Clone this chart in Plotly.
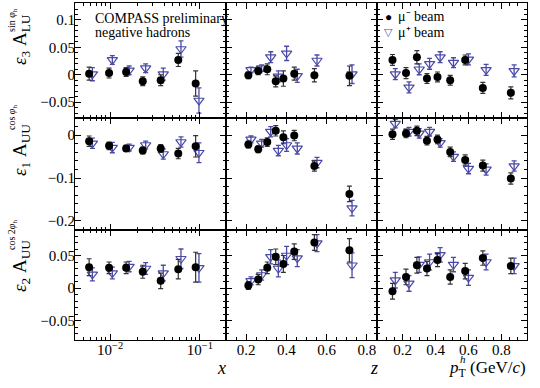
import plotly.graph_objects as go
from plotly.subplots import make_subplots

# ---------------- data ----------------
# kinematic bin positions as drawn
x_mum = [0.00585, 0.00975, 0.0151, 0.0231, 0.0366, 0.0574, 0.0896]
x_mup = [0.00636, 0.0106, 0.0163, 0.0249, 0.0391, 0.0615, 0.0975]
z_mum = [0.211, 0.260, 0.305, 0.347, 0.385, 0.439, 0.539, 0.713]
z_mup = [0.224, 0.277, 0.322, 0.360, 0.401, 0.454, 0.552, 0.726]
pt_mum = [0.139, 0.221, 0.287, 0.348, 0.412, 0.489, 0.580, 0.687, 0.857]
pt_mup = [0.156, 0.239, 0.301, 0.364, 0.428, 0.509, 0.600, 0.707, 0.877]

# sin phi_h  (eps3 A_LU)
sin_x_mum = [0.002, 0.003, 0.005, -0.012, -0.010, 0.027, -0.016]
sin_x_mum_err = [0.012, 0.009, 0.008, 0.008, 0.010, 0.012, 0.023]
sin_x_mup = [0.001, 0.027, 0.008, 0.012, 0.001, 0.047, -0.047]
sin_x_mup_err = [0.012, 0.008, 0.008, 0.008, 0.011, 0.015, 0.023]
sin_z_mum = [-0.001, 0.007, 0.010, -0.012, -0.007, 0.002, -0.001, -0.002]
sin_z_mum_err = [0.006, 0.007, 0.010, 0.010, 0.014, 0.012, 0.012, 0.018]
sin_z_mup = [0.009, 0.012, 0.032, -0.003, 0.039, -0.002, 0.026, 0.001]
sin_z_mup_err = [0.005, 0.006, 0.010, 0.010, 0.013, 0.012, 0.010, 0.017]
sin_pt_mum = [0.027, 0.003, 0.032, -0.007, -0.004, -0.010, 0.027, -0.024, -0.033]
sin_pt_mum_err = [0.010, 0.010, 0.012, 0.009, 0.009, 0.009, 0.009, 0.010, 0.011]
sin_pt_mup = [0.001, -0.023, 0.010, 0.020, 0.032, 0.022, 0.028, 0.009, 0.007]
sin_pt_mup_err = [0.010, 0.010, 0.010, 0.010, 0.010, 0.009, 0.010, 0.010, 0.011]

# cos phi_h  (eps1 A_UU)
cos_x_mum = [-0.014, -0.025, -0.031, -0.036, -0.031, -0.043, -0.026]
cos_x_mum_err = [0.012, 0.009, 0.007, 0.008, 0.009, 0.012, 0.025]
cos_x_mup = [-0.019, -0.029, -0.029, -0.023, -0.044, -0.016, -0.041]
cos_x_mup_err = [0.012, 0.012, 0.008, 0.009, 0.012, 0.012, 0.023]
cos_z_mum = [-0.022, -0.033, -0.016, 0.010, -0.005, -0.001, -0.072, -0.137]
cos_z_mum_err = [0.008, 0.008, 0.010, 0.012, 0.015, 0.012, 0.012, 0.018]
cos_z_mup = [-0.010, -0.019, 0.008, -0.036, -0.023, -0.031, -0.064, -0.170]
cos_z_mup_err = [0.008, 0.009, 0.012, 0.012, 0.015, 0.013, 0.012, 0.018]
cos_pt_mum = [0.002, 0.004, 0.010, -0.013, -0.010, -0.039, -0.058, -0.071, -0.101]
cos_pt_mum_err = [0.012, 0.010, 0.011, 0.010, 0.010, 0.011, 0.012, 0.013, 0.013]
cos_pt_mup = [0.027, 0.008, 0.004, 0.008, -0.018, -0.050, -0.078, -0.080, -0.072]
cos_pt_mup_err = [0.010, 0.010, 0.011, 0.010, 0.010, 0.011, 0.012, 0.013, 0.012]

# cos 2phi_h  (eps2 A_UU)
cos2_x_mum = [0.032, 0.031, 0.031, 0.025, 0.011, 0.029, 0.032]
cos2_x_mum_err = [0.013, 0.009, 0.009, 0.010, 0.012, 0.015, 0.023]
cos2_x_mup = [0.021, 0.023, 0.033, 0.030, 0.023, 0.045, 0.031]
cos2_x_mup_err = [0.010, 0.009, 0.008, 0.009, 0.012, 0.015, 0.022]
cos2_z_mum = [0.004, 0.013, 0.031, 0.048, 0.037, 0.056, 0.070, 0.058]
cos2_z_mum_err = [0.006, 0.008, 0.009, 0.012, 0.013, 0.012, 0.012, 0.018]
cos2_z_mup = [0.011, 0.020, 0.048, 0.030, 0.050, 0.046, 0.069, 0.035]
cos2_z_mup_err = [0.006, 0.008, 0.011, 0.013, 0.014, 0.013, 0.013, 0.019]
cos2_pt_mum = [-0.005, 0.017, 0.035, 0.030, 0.043, 0.017, 0.026, 0.046, 0.034]
cos2_pt_mum_err = [0.012, 0.012, 0.012, 0.011, 0.010, 0.011, 0.012, 0.011, 0.012]
cos2_pt_mup = [0.012, 0.007, 0.036, 0.040, 0.051, 0.036, 0.016, 0.040, 0.034]
cos2_pt_mup_err = [0.012, 0.012, 0.012, 0.012, 0.011, 0.011, 0.012, 0.012, 0.012]

legend_labels = ["μ⁻ beam", "μ⁺ beam"]
x_ticktext = ["10<sup>−2</sup>", "10<sup>−1</sup>"]
x_tickvals = [0.01, 0.1]

# ---------------- figure ----------------
FONT = "Liberation Serif, Times New Roman, Times, serif"
BLUE = "#4a4aa6"

fig = make_subplots(rows=3, cols=3, shared_xaxes=True, shared_yaxes=True,
                    horizontal_spacing=0, vertical_spacing=0)

panels = [
    (1, 1, x_mum, sin_x_mum, sin_x_mum_err, x_mup, sin_x_mup, sin_x_mup_err),
    (1, 2, z_mum, sin_z_mum, sin_z_mum_err, z_mup, sin_z_mup, sin_z_mup_err),
    (1, 3, pt_mum, sin_pt_mum, sin_pt_mum_err, pt_mup, sin_pt_mup, sin_pt_mup_err),
    (2, 1, x_mum, cos_x_mum, cos_x_mum_err, x_mup, cos_x_mup, cos_x_mup_err),
    (2, 2, z_mum, cos_z_mum, cos_z_mum_err, z_mup, cos_z_mup, cos_z_mup_err),
    (2, 3, pt_mum, cos_pt_mum, cos_pt_mum_err, pt_mup, cos_pt_mup, cos_pt_mup_err),
    (3, 1, x_mum, cos2_x_mum, cos2_x_mum_err, x_mup, cos2_x_mup, cos2_x_mup_err),
    (3, 2, z_mum, cos2_z_mum, cos2_z_mum_err, z_mup, cos2_z_mup, cos2_z_mup_err),
    (3, 3, pt_mum, cos2_pt_mum, cos2_pt_mum_err, pt_mup, cos2_pt_mup, cos2_pt_mup_err),
]

MUM_MARKER = dict(symbol="circle", size=8, color="black")
MUP_MARKER = dict(symbol="triangle-down-open", size=9, color=BLUE, line=dict(width=1.2, color=BLUE))

for i, (r, c, xm, ym, em, xp, yp, ep) in enumerate(panels):
    fig.add_hline(y=0, line_dash="dash", line_color="#555555", line_width=1, row=r, col=c)
    fig.add_trace(go.Scatter(
        x=xp, y=yp, mode="markers", name=legend_labels[1], showlegend=False,
        marker=MUP_MARKER,
        error_y=dict(type="data", array=ep, color=BLUE, thickness=1.3, width=2.5),
    ), row=r, col=c)
    fig.add_trace(go.Scatter(
        x=xm, y=ym, mode="markers", name=legend_labels[0], showlegend=False,
        marker=MUM_MARKER,
        error_y=dict(type="data", array=em, color="#333333", thickness=1.2, width=2.5),
    ), row=r, col=c)

col_domains = [[75 / 540, 226 / 540], [226 / 540, 377 / 540], [377 / 540, 527 / 540]]
row_domains = [[1 - 118 / 388, 1 - 3 / 388], [1 - 229.5 / 388, 1 - 118 / 388], [1 - 340 / 388, 1 - 229.5 / 388]]

axis_common = dict(showgrid=False, zeroline=False, showline=True, linecolor="black", linewidth=1,
                   mirror="ticks", ticks="inside", ticklen=6, tickwidth=1, tickcolor="black",
                   tickfont=dict(family=FONT, size=15, color="black"))

for c in range(1, 4):
    fig.update_xaxes(domain=col_domains[c - 1], col=c, ticklabelstandoff=-4, **axis_common)
for r in range(1, 4):
    fig.update_yaxes(domain=row_domains[r - 1], row=r, ticklabelstandoff=-4, **axis_common)

minor_log = [k * 10 ** e for e in (-3, -2, -1) for k in range(2, 10)]
fig.update_xaxes(type="log", range=[-2.39, -0.71], tickmode="array", tickvals=x_tickvals,
                 ticktext=x_ticktext,
                 minor=dict(tickmode="array", tickvals=minor_log, ticks="inside", ticklen=3,
                            tickcolor="black"), col=1)
fig.update_xaxes(range=[0.1, 0.85], tick0=0, dtick=0.2,
                 minor=dict(dtick=0.05, ticks="inside", ticklen=3, tickcolor="black"), col=2)
fig.update_xaxes(range=[0.045, 0.955], tick0=0, dtick=0.2,
                 minor=dict(dtick=0.05, ticks="inside", ticklen=3, tickcolor="black"), col=3)

fig.update_yaxes(range=[-0.079, 0.131], tickmode="array", tickvals=[-0.05, 0, 0.05, 0.1],
                 ticktext=["−0.05", "0", "0.05", "0.1"],
                 minor=dict(dtick=0.01, tick0=0, ticks="inside", ticklen=3, tickcolor="black"), row=1)
fig.update_yaxes(range=[-0.22, 0.04], tickmode="array", tickvals=[-0.2, -0.1, 0],
                 ticktext=["−0.2", "−0.1", "0"],
                 minor=dict(dtick=0.02, tick0=0, ticks="inside", ticklen=3, tickcolor="black"), row=2)
fig.update_yaxes(range=[-0.08, 0.09], tickmode="array", tickvals=[-0.05, 0, 0.05],
                 ticktext=["−0.05", "0", "0.05"],
                 minor=dict(dtick=0.01, tick0=0, ticks="inside", ticklen=3, tickcolor="black"), row=3)


def px(xp, yp):
    return xp / 540, 1 - yp / 388


def ann(text, xp, yp, size, angle=0, xanchor="center", yanchor="middle", color="black"):
    ax, ay = px(xp, yp)
    fig.add_annotation(text=text, x=ax, y=ay, xref="paper", yref="paper", showarrow=False,
                       textangle=angle, xanchor=xanchor, yanchor=yanchor,
                       font=dict(family=FONT, size=size, color=color))


# y-axis labels (main part + stacked superscript)
ann("<i>ε</i><sub>3</sub> A<sub>LU</sub>", 21, 40, 19, angle=-90)
ann("sin <i>φ</i><sub>h</sub>", 12, 20, 10, angle=-90)
ann("<i>ε</i><sub>1</sub> A<sub>UU</sub>", 21, 150, 19, angle=-90)
ann("cos <i>φ</i><sub>h</sub>", 12, 118, 10, angle=-90)
ann("<i>ε</i><sub>2</sub> A<sub>UU</sub>", 21, 266, 19, angle=-90)
ann("cos 2<i>φ</i><sub>h</sub>", 13, 235, 10, angle=-90)

# x-axis labels
ann("<i>x</i>", 221.5, 368, 18)
ann("<i>z</i>", 373.5, 368, 18)
ann("<i>p</i><sub>T</sub> (GeV/<i>c</i>)", 528, 369, 17, xanchor="right")
ann("<i>h</i>", 463, 359, 11)

# header text
ann("COMPASS preliminary", 93, 18, 14, xanchor="left")
ann("negative hadrons", 93, 32, 14, xanchor="left")

# legend (key glyph + label)
ann("●", 388, 17, 12)
ann("▽", 388, 32, 11, color=BLUE)
ann(legend_labels[0], 396, 17, 14, xanchor="left")
ann(legend_labels[1], 396, 32, 14, xanchor="left")

fig.update_layout(
    width=540, height=388, autosize=False,
    margin=dict(l=0, r=0, t=0, b=0),
    paper_bgcolor="white", plot_bgcolor="white",
    font=dict(family=FONT, size=15, color="black"),
    showlegend=False,
)

fig.write_html("out.html", config={"displayModeBar": False},
               post_script="document.body.style.margin='0';")
